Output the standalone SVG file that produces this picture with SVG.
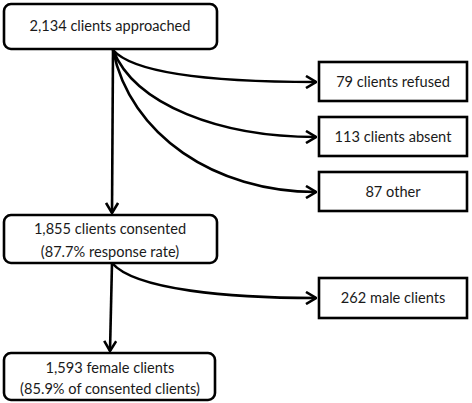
<svg xmlns="http://www.w3.org/2000/svg" width="472" height="403" viewBox="0 0 472 403">
<style>
.box{fill:#fff;stroke:#000;stroke-width:2.6}
.t{font-family:Lato,"Open Sans","Liberation Sans",sans-serif;font-size:14.6px;fill:#1a1a1a;text-anchor:middle}
.c{fill:none;stroke:#000;stroke-width:2.6}
</style>
<defs>
<marker id="ah" viewBox="0 0 12 14" refX="11" refY="7" markerWidth="12" markerHeight="14" markerUnits="userSpaceOnUse" orient="auto">
<path d="M1,1 L11,7 L1,13" fill="none" stroke="#000" stroke-width="2.6"/>
</marker>
</defs>
<g id="connectors">
<path class="c" d="M113,50 L112,213" marker-end="url(#ah)"/>
<path class="c" d="M113,50 C135,75 220,82 316,82" marker-end="url(#ah)"/>
<path class="c" d="M113,50 C135,105 220,137 316,137" marker-end="url(#ah)"/>
<path class="c" d="M113,50 C130,135 215,192 316,192" marker-end="url(#ah)"/>
<path class="c" d="M112,263 L110,351" marker-end="url(#ah)"/>
<path class="c" d="M112,263 C135,290 230,298 316,298" marker-end="url(#ah)"/>
</g>
<g id="n1"><rect class="box" x="4" y="4" width="213" height="45" rx="7"/><text class="t" x="110" y="31">2,134 clients approached</text></g>
<g id="n2"><rect class="box" x="319" y="62" width="148" height="39"/><text class="t" x="393" y="87">79 clients refused</text></g>
<g id="n3"><rect class="box" x="319" y="117" width="148" height="39"/><text class="t" x="393" y="142">113 clients absent</text></g>
<g id="n4"><rect class="box" x="319" y="172" width="148" height="39"/><text class="t" x="393" y="197">87 other</text></g>
<g id="n5"><rect class="box" x="4" y="215" width="213" height="48" rx="7"/><text class="t" x="110" y="234">1,855 clients consented</text><text class="t" x="110" y="257">(87.7% response rate)</text></g>
<g id="n6"><rect class="box" x="319" y="278" width="148" height="40"/><text class="t" x="393" y="303">262 male clients</text></g>
<g id="n7"><rect class="box" x="4" y="353" width="211" height="47" rx="7"/><text class="t" x="110" y="373">1,593 female clients</text><text class="t" x="110" y="394">(85.9% of consented clients)</text></g>
</svg>
